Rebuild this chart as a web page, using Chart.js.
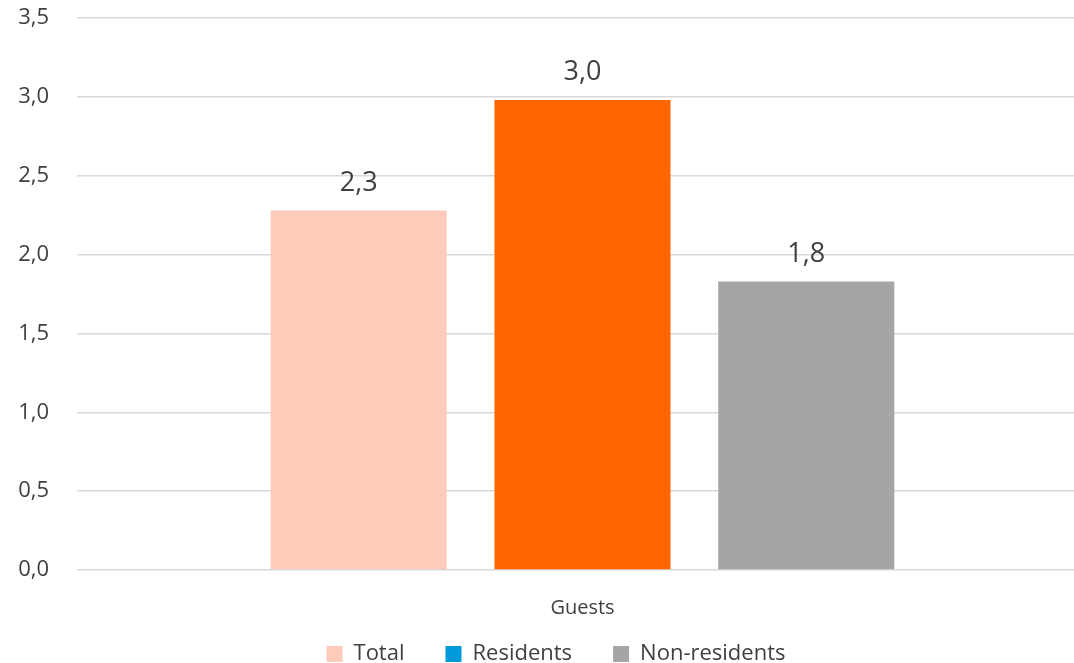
<!DOCTYPE html>
<html>
<head>
<meta charset="utf-8">
<script src="https://cdn.jsdelivr.net/npm/chart.js@4/dist/chart.umd.min.js"></script>
<style>
html,body{margin:0;padding:0;background:#fff;overflow:hidden;}
#wrap{position:relative;width:1088px;height:663px;}
</style>
</head>
<body>
<div id="wrap"><canvas id="c"></canvas></div>
<script>
const categories = ["Guests"];
const seriesNames = ["Total", "Residents", "Non-residents"];
const totalValues = [2.28];
const residentsValues = [2.98];
const nonResidentsValues = [1.83];
const barColors = ["#FFCBBA", "#FF6600", "#A5A5A5"];
const legendColors = ["#FFCBBA", "#009ADA", "#A5A5A5"];
const yTicks = [0, 0.5, 1, 1.5, 2, 2.5, 3, 3.5];

const fmt = v => v.toFixed(1).replace('.', ',');
const textColor = "#404040";
const fontFam = "'Open Sans', 'Noto Sans', sans-serif";

const valueLabels = {
  id: 'valueLabels',
  afterDatasetsDraw(chart) {
    const ctx = chart.ctx;
    ctx.save();
    ctx.font = "27px " + fontFam;
    ctx.fillStyle = textColor;
    ctx.textAlign = 'center';
    ctx.textBaseline = 'bottom';
    chart.data.datasets.forEach((ds, i) => {
      const meta = chart.getDatasetMeta(i);
      meta.data.forEach((bar, j) => {
        ctx.fillText(fmt(ds.data[j]), bar.x, bar.y - 14);
      });
    });
    ctx.restore();
  }
};

const legendShift = {
  id: 'legendShift',
  afterLayout(chart) {
    const lg = chart.legend;
    if (lg) {
      lg.left += 12; lg.right += 12;
      lg.top = 602; lg.bottom = 663; lg.height = 61;
    }
  }
};

new Chart(document.getElementById('c'), {
  type: 'bar',
  data: {
    labels: categories,
    datasets: [
      { label: seriesNames[0], data: totalValues, backgroundColor: barColors[0] },
      { label: seriesNames[1], data: residentsValues, backgroundColor: barColors[1] },
      { label: seriesNames[2], data: nonResidentsValues, backgroundColor: barColors[2] }
    ]
  },
  options: {
    responsive: true,
    maintainAspectRatio: false,
    animation: false,
    devicePixelRatio: 1,
    categoryPercentage: 0.664,
    barPercentage: 0.787,
    layout: { padding: { top: 18, left: 0, right: 0, bottom: 0 } },
    plugins: {
      tooltip: { enabled: false },
      legend: {
        position: 'bottom',
        maxHeight: 10,
        labels: {
          font: { family: fontFam, size: 22 },
          color: textColor,
          boxWidth: 16,
          boxHeight: 16,
          padding: 41,
          generateLabels(chart) {
            return chart.data.datasets.map((ds, i) => ({
              text: ds.label,
              fillStyle: legendColors[i],
              strokeStyle: legendColors[i],
              lineWidth: 0,
              fontColor: textColor,
              hidden: false,
              datasetIndex: i
            }));
          }
        }
      }
    },
    scales: {
      x: {
        grid: { display: false },
        border: { display: false },
        ticks: { font: { family: fontFam, size: 20 }, color: textColor, padding: 18 },
        afterFit(scale) { scale.height = 83; }
      },
      y: {
        min: 0,
        max: 3.5,
        afterBuildTicks(scale) { scale.ticks = yTicks.map(v => ({ value: v })); },
        grid: { color: '#D9D9D9', lineWidth: 1.5, drawTicks: false },
        border: { display: false },
        ticks: {
          font: { family: fontFam, size: 22 },
          color: textColor,
          padding: 28,
          callback: v => fmt(v)
        },
        afterFit(scale) { scale.width = 77; scale.paddingTop = 0; scale.paddingBottom = 0; }
      }
    }
  },
  plugins: [valueLabels, legendShift]
});
</script>
</body>
</html>
